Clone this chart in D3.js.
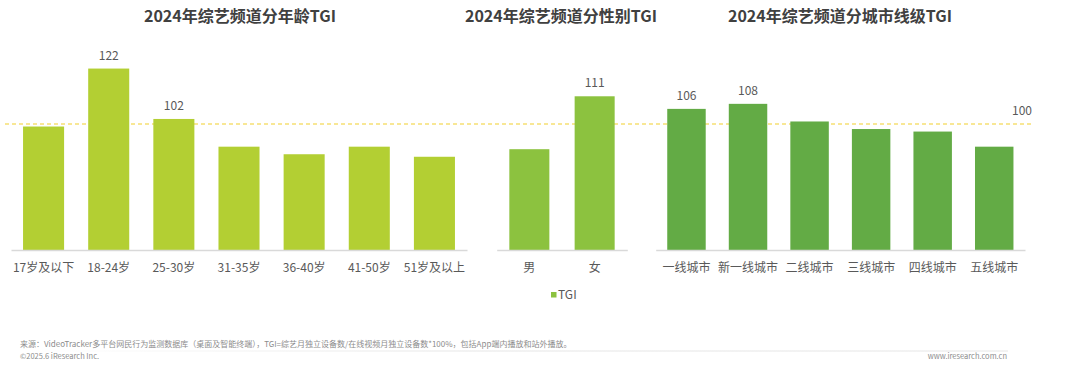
<!DOCTYPE html>
<html><head><meta charset="utf-8">
<script src="https://cdn.jsdelivr.net/npm/d3@7"></script>
<style>
html,body{margin:0;padding:0;background:#fff;}
svg{display:block;font-family:"Noto Sans CJK SC","Noto Sans",sans-serif;}
</style></head>
<body>
<svg id="c" width="1080" height="368"></svg>
<script>
// ---- data ----
const ageCats = ["17岁及以下","18-24岁","25-30岁","31-35岁","36-40岁","41-50岁","51岁及以上"];
const ageVals = [99,122,102,91,88,91,87];
const ageLabels = [null,"122","102",null,null,null,null];

const genderCats = ["男","女"];
const genderVals = [90,111];
const genderLabels = [null,"111"];

const cityCats = ["一线城市","新一线城市","二线城市","三线城市","四线城市","五线城市"];
const cityVals = [106,108,101,98,97,91];
const cityLabels = ["106","108",null,null,null,null];

const titles = ["2024年综艺频道分年龄TGI","2024年综艺频道分性别TGI","2024年综艺频道分城市线级TGI"];
const refValue = 100;
const refLabel = "100";
const legendLabel = "TGI";
const sourceText = "来源：VideoTracker多平台网民行为监测数据库（桌面及智能终端），TGI=综艺月独立设备数/在线视频月独立设备数*100%，包括App端内播放和站外播放。";
const copyText = "©2025.6 iResearch Inc.";
const siteText = "www.iresearch.com.cn";

// ---- drawing ----
const svg = d3.select("#c");
const baseY = 250;
const y = d3.scaleLinear().domain([50, 130]).range([baseY, baseY - 80*2.52]);

const panels = [
  {cats: ageCats, vals: ageVals, labels: ageLabels, range: [11, 467], pad: 0.37, color: "#b3cf33", title: titles[0], tx: 240},
  {cats: genderCats, vals: genderVals, labels: genderLabels, range: [496.7, 627.3], pad: 0.387, color: "#8cc23f", title: titles[1], tx: 561},
  {cats: cityCats, vals: cityVals, labels: cityLabels, range: [655.7, 1025], pad: 0.375, color: "#63ab45", title: titles[2], tx: 840}
];

// reference line (drawn behind bars)
svg.append("line")
  .attr("x1", 5).attr("x2", 1031)
  .attr("y1", y(refValue)).attr("y2", y(refValue))
  .attr("stroke", "#f2cf2c").attr("stroke-width", 1.2)
  .attr("stroke-dasharray", "4,3");

panels.forEach(p => {
  const x = d3.scaleBand().domain(p.cats).range(p.range)
    .paddingInner(p.pad).paddingOuter(p.pad/2);
  const g = svg.append("g");

  g.append("text").attr("x", p.tx).attr("y", 22)
    .attr("text-anchor", "middle").attr("font-size", 16).attr("font-weight", "bold")
    .attr("fill", "#404040").text(p.title);

  g.selectAll("rect").data(p.cats).join("rect")
    .attr("x", d => x(d)).attr("width", x.bandwidth())
    .attr("y", (d,i) => y(p.vals[i]))
    .attr("height", (d,i) => baseY - y(p.vals[i]))
    .attr("fill", p.color);

  const ax = g.append("g").attr("transform", `translate(0,${baseY})`)
    .call(d3.axisBottom(x).tickSize(0).tickPadding(13));
  ax.select(".domain").attr("stroke", "#d9d9d9").attr("stroke-width", 1.5);
  ax.selectAll("text").attr("font-size", 12).attr("fill", "#595959")
    .attr("font-family", "\"Noto Sans CJK SC\",sans-serif");

  g.selectAll("text.val").data(p.cats).join("text").attr("class", "val")
    .attr("x", d => x(d) + x.bandwidth()/2)
    .attr("y", (d,i) => y(p.vals[i]) - 9)
    .attr("text-anchor", "middle").attr("font-size", 12).attr("fill", "#595959")
    .text((d,i) => p.labels[i] || "");
});

svg.append("text").attr("x", 1032).attr("y", 115).attr("text-anchor", "end")
  .attr("font-size", 12).attr("fill", "#595959").text(refLabel);

// legend
svg.append("rect").attr("x", 551).attr("y", 292).attr("width", 5.5).attr("height", 5.5).attr("fill", "#8cc23f");
svg.append("text").attr("x", 558).attr("y", 299).attr("font-size", 12).attr("fill", "#595959").text(legendLabel);

// footer
const defs = svg.append("defs");
const grad = defs.append("linearGradient").attr("id", "fl").attr("x1", "0").attr("x2", "1");
grad.append("stop").attr("offset", "0").attr("stop-color", "#e6e6e6").attr("stop-opacity", 0);
grad.append("stop").attr("offset", "0.45").attr("stop-color", "#e6e6e6").attr("stop-opacity", 1);
grad.append("stop").attr("offset", "1").attr("stop-color", "#e6e6e6").attr("stop-opacity", 1);
svg.append("rect").attr("x", 20).attr("y", 350.5).attr("width", 988).attr("height", 1).attr("fill", "url(#fl)");

svg.append("text").attr("x", 20).attr("y", 347).attr("font-size", 8).attr("fill", "#8c8c8c").text(sourceText);
svg.append("text").attr("x", 20).attr("y", 359).attr("font-size", 7.5).attr("fill", "#8c8c8c").text(copyText);
svg.append("text").attr("x", 1007).attr("y", 359).attr("text-anchor", "end").attr("font-size", 7.5).attr("fill", "#8c8c8c").text(siteText);
</script>
</body></html>
